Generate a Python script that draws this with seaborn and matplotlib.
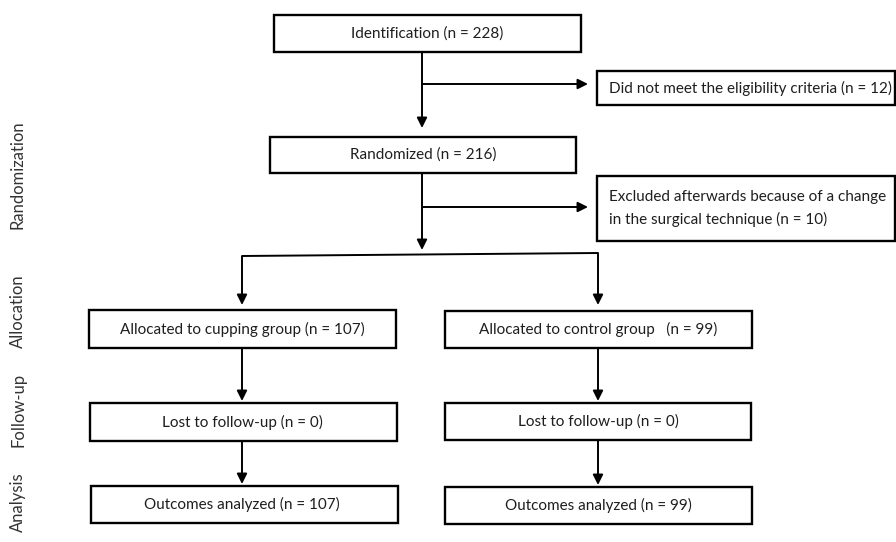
import matplotlib
matplotlib.use("Agg")
import matplotlib.pyplot as plt
import matplotlib.patches as patches
import seaborn as sns

# ==============================
# FLOW CHART TEXT
# ==============================

stage_labels = ["Randomization", "Allocation", "Follow-up", "Analysis"]

main_labels = ["Identification (n = 228)", "Randomized (n = 216)"]

excluded_labels = [
    "Did not meet the eligibility criteria (n = 12)",
    "Excluded afterwards because of a change\nin the surgical technique (n = 10)",
]

cupping_labels = [
    "Allocated to cupping group (n = 107)",
    "Lost to follow-up (n = 0)",
    "Outcomes analyzed (n = 107)",
]

control_labels = [
    "Allocated to control group   (n = 99)",
    "Lost to follow-up (n = 0)",
    "Outcomes analyzed (n = 99)",
]

# ==============================
# LAYOUT (pixels)
# ==============================

sns.set_style("white")
plt.rcParams["font.family"] = ["Lato", "DejaVu Sans"]

TXT = "#1e1e1e"
FS = 11.0
FS_STAGE = 12.0

fig = plt.figure(figsize=(8.96, 5.42), dpi=100)
ax = fig.add_axes([0, 0, 1, 1])
ax.set_xlim(0, 896)
ax.set_ylim(542, 0)
ax.axis("off")
sns.despine(ax=ax, left=True, bottom=True)


def box(x0, y0, x1, y1):
    ax.add_patch(patches.Rectangle((x0, y0), x1 - x0, y1 - y0,
                                   fill=False, edgecolor="black", lw=1.7))


def arrow(x0, y0, x1, y1):
    ax.annotate("", xy=(x1, y1), xytext=(x0, y0),
                arrowprops=dict(arrowstyle="-|>", color="black", lw=1.4,
                                mutation_scale=15, shrinkA=0, shrinkB=0))


def line(xs, ys):
    ax.plot(xs, ys, color="black", lw=1.4, solid_capstyle="butt")


# main column
main_boxes = [(274, 15, 581, 52), (270, 137, 576, 173)]
for (x0, y0, x1, y1), lab in zip(main_boxes, main_labels):
    box(x0, y0, x1, y1)
    ax.text((x0 + x1) / 2, (y0 + y1) / 2, lab, ha="center", va="center",
            fontsize=FS, color=TXT)

# exclusion boxes
excl_boxes = [(597, 71, 895, 105), (597, 176, 895, 241)]
for (x0, y0, x1, y1), lab in zip(excl_boxes, excluded_labels):
    box(x0, y0, x1, y1)
    ax.text(x0 + 12, (y0 + y1) / 2, lab, ha="left", va="center",
            fontsize=FS, color=TXT, linespacing=1.6)

# main arrows
line([422, 422], [52, 100])
arrow(422, 100, 422, 128)
arrow(422, 84, 588, 84)
line([422, 422], [173, 225])
arrow(422, 225, 422, 250)
arrow(422, 207, 588, 207)

# split to the two groups
line([242, 598], [256, 253])
arrow(242, 256, 242, 305)
arrow(598, 253, 598, 305)

# group columns
left_boxes = [(89, 310, 396, 348), (90, 403, 397, 441), (91, 486, 398, 523)]
right_boxes = [(445, 311, 752, 348), (445, 403, 751, 440), (445, 487, 752, 524)]

for boxes, labels, cx in [(left_boxes, cupping_labels, 242),
                          (right_boxes, control_labels, 598)]:
    for (x0, y0, x1, y1), lab in zip(boxes, labels):
        box(x0, y0, x1, y1)
        ax.text(cx, (y0 + y1) / 2, lab, ha="center", va="center",
                fontsize=FS, color=TXT)
    for (a, b) in zip(boxes[:-1], boxes[1:]):
        arrow(cx, a[3], cx, b[1] - 2)

# stage labels on the left
stage_y = [175, 311, 410, 502]
for lab, y in zip(stage_labels, stage_y):
    ax.text(18, y, lab, rotation=90, ha="center", va="center",
            fontsize=FS_STAGE, color="#333333")

fig.savefig("out.png", dpi=100, facecolor="white")
